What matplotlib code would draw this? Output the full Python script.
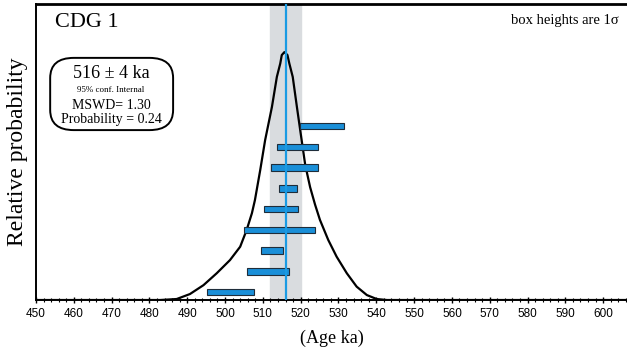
import numpy as np
import matplotlib.pyplot as plt
from matplotlib.patches import FancyBboxPatch

# relative probability curve (peak = 1)
curve_age = [450, 482.8, 487.2, 490.7, 494.3, 497.8, 501.3, 504.0, 505.7, 507.1,
             507.9, 509.3, 510.6, 512.4, 513.7, 514.6, 515.0, 515.7, 516.5, 517.0,
             517.9, 519.0, 520.0, 521.2, 522.5, 523.8, 525.1, 527.3, 529.5, 532.2,
             534.8, 537.5, 540.1, 542.8, 610]
curve_prob = [0, 0, 0.004, 0.024, 0.060, 0.108, 0.161, 0.215, 0.282, 0.350,
              0.403, 0.524, 0.645, 0.779, 0.900, 0.954, 0.988, 1.0, 0.988, 0.954,
              0.900, 0.779, 0.672, 0.545, 0.455, 0.385, 0.323, 0.242, 0.175, 0.108,
              0.054, 0.020, 0.004, 0, 0]

# individual ages (ka) and box half widths, bottom to top
ages = [501.4, 511.45, 512.45, 514.4, 514.85, 516.7, 518.45, 519.15, 525.6]
errs = [6.2, 5.55, 2.95, 9.4, 4.55, 2.4, 6.25, 5.45, 5.8]

# weighted mean
mean_age = 516
mean_err = 4
mswd = 1.30
prob = 0.24

serif = 'Liberation Serif'
blue = '#1a8fd8'

fig = plt.figure(figsize=(6.27, 3.54), dpi=100)
ax = fig.add_axes([0.0574, 0.1525, 1.0 - 0.0574, 0.8362])
ax.set_xlim(450, 606.3)
ax.set_ylim(0, 1.194)

# mean band and line
ax.axvspan(mean_age - mean_err, mean_age + mean_err, color='#d9dcdf', zorder=1)
ax.axvline(mean_age, color='#1a9be3', lw=1.6, zorder=4)

# probability curve
ax.plot(curve_age, curve_prob, color='black', lw=1.6, zorder=2,
        solid_joinstyle='round')

# age boxes
y0, dy, h = 0.032, 0.0837, 0.026
for i, (a, e) in enumerate(zip(ages, errs)):
    ax.barh(y0 + i * dy, 2 * e, left=a - e, height=h, color=blue,
            edgecolor='#1f2d3a', linewidth=0.8, zorder=3)

# axes styling
ax.spines['right'].set_visible(False)
ax.spines['top'].set_linewidth(2)
ax.spines['left'].set_linewidth(1.4)
ax.spines['bottom'].set_linewidth(1.4)
ax.set_yticks([])
ax.set_xticks(np.arange(450, 601, 10))
ax.set_xticks(np.arange(450, 607, 2), minor=True)
ax.tick_params(axis='x', which='major', direction='inout', length=5, width=1.0,
               labelsize=8.5, pad=3)
ax.tick_params(axis='x', which='minor', direction='inout', length=3, width=0.8)
for lab in ax.get_xticklabels():
    lab.set_family('Liberation Sans')

ax.set_xlabel('(Age ka)', fontsize=13, family=serif, labelpad=7)
ax.set_ylabel('Relative probability', fontsize=17, family=serif, labelpad=6)

ax.text(0.032, 0.97, 'CDG 1', transform=ax.transAxes, fontsize=16, family=serif,
        va='top', ha='left')
ax.text(0.985, 0.965, 'box heights are 1σ', transform=ax.transAxes, fontsize=10.5,
        family=serif, va='top', ha='right')

# results box
box = FancyBboxPatch((0.024, 0.574), 0.208, 0.244, transform=ax.transAxes,
                     boxstyle='round,pad=0,rounding_size=0.04', fc='white',
                     ec='black', lw=1.4, zorder=5, mutation_aspect=1.7)
ax.add_patch(box)
cx = 0.127
ax.text(cx, 0.795, f'{mean_age} ± {mean_err} ka', transform=ax.transAxes,
        fontsize=13, family=serif, ha='center', va='top', zorder=6)
ax.text(cx, 0.724, '95% conf. Internal', transform=ax.transAxes,
        fontsize=6.5, family=serif, ha='center', va='top', zorder=6)
ax.text(cx, 0.678, f'MSWD= {mswd:.2f}', transform=ax.transAxes,
        fontsize=10, family=serif, ha='center', va='top', zorder=6)
ax.text(cx, 0.633, f'Probability = {prob:.2f}', transform=ax.transAxes,
        fontsize=10, family=serif, ha='center', va='top', zorder=6)

fig.savefig('out.png', dpi=100)
